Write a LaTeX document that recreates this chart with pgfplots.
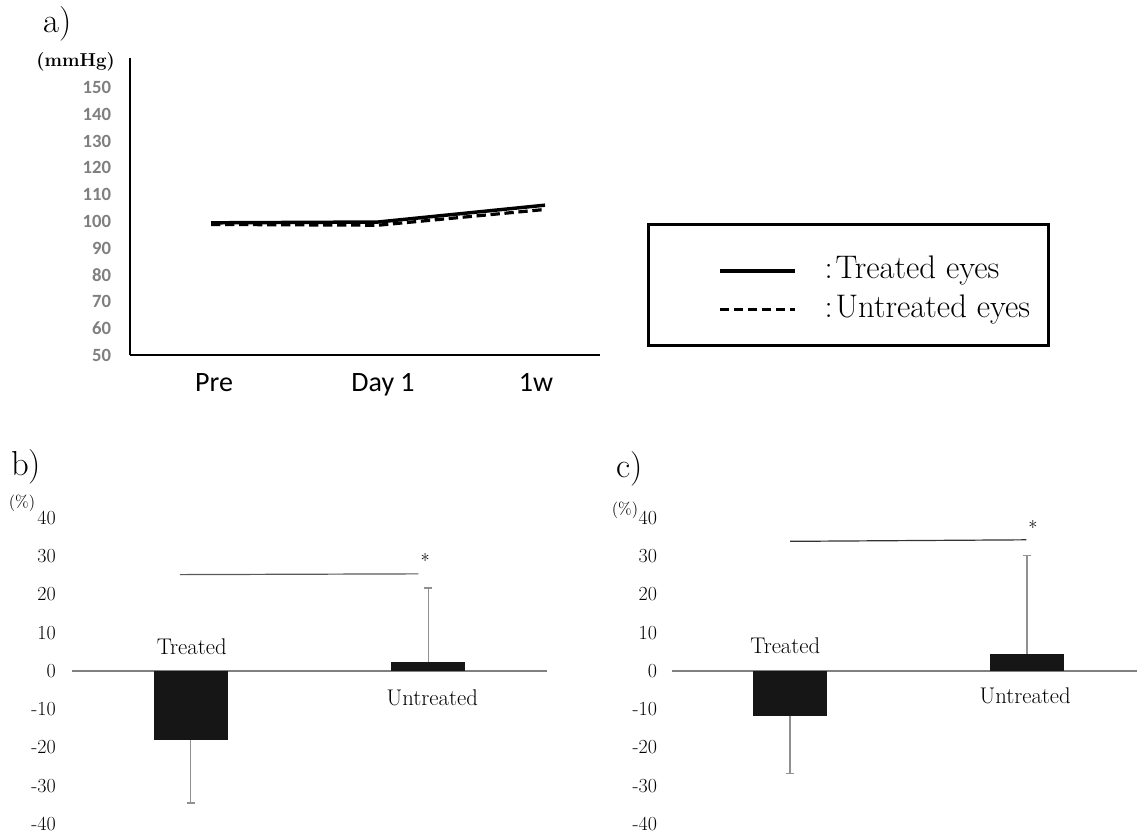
\documentclass[border=0pt]{standalone}
\usepackage{pgfplots}
\pgfplotsset{compat=1.18}
\usepackage{fontspec}
\newfontfamily\carlito{Carlito}
\definecolor{tickgray}{HTML}{7F7F7F}
\definecolor{barblack}{HTML}{161616}
\definecolor{zerogray}{HTML}{808080}
\definecolor{errgray}{HTML}{909090}
\newcommand\semib{\addfontfeature{FakeBold=1.3}}
\begin{document}
\begin{tikzpicture}
\useasboundingbox (0,0) rectangle (852.75pt,624.75pt);

% ---------------- panel a ----------------
\begin{axis}[
 at={(97.5pt,358.5pt)}, anchor=south west,
 scale only axis, width=352.5pt, height=222.75pt,
 xmin=-0.485, xmax=2.329, ymin=50, ymax=161,
 axis x line=bottom, axis y line=left,
 x axis line style={-, line width=1.5pt},
 y axis line style={-, line width=1.1pt},
 ytick={50,60,...,150},
 major tick length=0pt,
 yticklabel style={font=\fontsize{14pt}{16pt}\carlito\bfseries, text=tickgray, inner sep=0pt, xshift=-14pt, /pgf/number format/assume math mode=true},
 xtick={0.018,1.03,1.946}, xticklabels={Pre,Day 1,1w},
 xticklabel style={font=\fontsize{21pt}{25pt}\carlito, inner sep=0pt, yshift=-14pt},
 clip=false,
 legend style={at={(1.251,0.217)}, anchor=west, draw=none, fill=none, inner sep=0pt,
   column sep=21pt, row sep=8pt, font=\fontsize{24.5pt}{28pt}\selectfont,
   nodes={inner sep=0pt, text height=16pt, text depth=5pt}},
 legend cell align=left,
 legend image code/.code={\draw[#1] (0pt,0pt) -- (56.25pt,0pt);},
]
\addplot[black, line width=2.6pt] coordinates {(0,99.4) (1,99.7) (2,106)};
\addlegendentry{:\kern2pt Treated eyes}
\addplot[black, line width=2.4pt, dash pattern=on 7pt off 3.5pt] coordinates {(0,98.8) (1,98.5) (2,104.4)};
\addlegendentry{:\kern2pt Untreated eyes}
\end{axis}
\draw[line width=2.25pt] (486pt,456pt) rectangle (786pt,366pt);
\node[font=\fontsize{14pt}{16pt}\selectfont\bfseries, anchor=east, inner sep=0pt] at (86.25pt,578.25pt) {(mmHg)};
\node[font=\fontsize{26pt}{30pt}\selectfont, inner sep=0pt] at (43pt,606.75pt) {a)};

% ---------------- panel b ----------------
\begin{axis}[
 at={(54pt,6.75pt)}, anchor=south west,
 scale only axis, width=356.25pt, height=229.5pt,
 xmin=-0.5, xmax=1.5, ymin=-40, ymax=40,
 axis x line=middle, axis y line=left,
 x axis line style={-, draw=zerogray, line width=1.5pt},
 y axis line style={draw=none},
 xtick=\empty, ytick={-40,-30,...,40},
 yticklabels={-40,-30,-20,-10,0,10,20,30,40},
 major tick length=0pt,
 yticklabel style={font=\fontsize{15pt}{17pt}\selectfont\semib, inner sep=0pt, xshift=-12pt},
 ybar, bar width=55.5pt, clip=false,
 error bars/error mark=-,
 error bars/error bar style={errgray, line width=0.9pt},
 error bars/error mark options={errgray, line width=0.9pt, mark size=3pt, rotate=90},
]
\addplot[fill=barblack, draw=none, bar shift=0pt, error bars/.cd, y dir=minus, y explicit] coordinates {(0,-18) +- (0,16.5)};
\addplot[fill=barblack, draw=none, bar shift=0pt, error bars/.cd, y dir=plus, y explicit] coordinates {(1,2.3) +- (0,19.4)};
\addplot[sharp plot, no markers, black!65, line width=0.9pt] coordinates {(-0.046,25.2) (0.958,25.4)};
\node[font=\fontsize{14pt}{16pt}\selectfont] at (axis cs:0.987,29) {*};
\node[font=\fontsize{17pt}{20pt}\selectfont\semib] at (axis cs:0.004,6.3) {Treated};
\node[font=\fontsize{17pt}{20pt}\selectfont\semib] at (axis cs:1.017,-7) {Untreated};
\end{axis}
\node[font=\fontsize{12.5pt}{14pt}\selectfont\semib, inner sep=0pt] at (16.5pt,247.5pt) {(\%)};
\node[font=\fontsize{26pt}{30pt}\selectfont, inner sep=0pt] at (19.5pt,274.5pt) {b)};

% ---------------- panel c ----------------
\begin{axis}[
 at={(504pt,6.75pt)}, anchor=south west,
 scale only axis, width=348.75pt, height=229.5pt,
 xmin=-0.498, xmax=1.464, ymin=-40, ymax=40,
 axis x line=middle, axis y line=left,
 x axis line style={-, draw=zerogray, line width=1.5pt},
 y axis line style={draw=none},
 xtick=\empty, ytick={-40,-30,...,40},
 yticklabels={-40,-30,-20,-10,0,10,20,30,40},
 major tick length=0pt,
 yticklabel style={font=\fontsize{15pt}{17pt}\selectfont\semib, inner sep=0pt, xshift=-11pt},
 ybar, bar width=55.5pt, clip=false,
 error bars/error mark=-,
 error bars/error bar style={errgray, line width=0.9pt},
 error bars/error mark options={errgray, line width=0.9pt, mark size=3pt, rotate=90},
]
\addplot[fill=barblack, draw=none, bar shift=0pt, error bars/.cd, y dir=minus, y explicit] coordinates {(0,-11.8) +- (0,15.0)};
\addplot[fill=barblack, draw=none, bar shift=0pt, error bars/.cd, y dir=plus, y explicit] coordinates {(1,4.4) +- (0,25.9)};
\addplot[sharp plot, no markers, black!80, line width=0.9pt] coordinates {(0,33.9) (0.997,34.3)};
\node[font=\fontsize{14pt}{16pt}\selectfont] at (axis cs:1.025,37.4) {*};
\node[font=\fontsize{17pt}{20pt}\selectfont\semib] at (axis cs:-0.02,6.7) {Treated};
\node[font=\fontsize{17pt}{20pt}\selectfont\semib] at (axis cs:0.992,-6.5) {Untreated};
\end{axis}
\node[font=\fontsize{12.5pt}{14pt}\selectfont\semib, inner sep=0pt] at (468.75pt,242.25pt) {(\%)};
\node[font=\fontsize{26pt}{30pt}\selectfont, inner sep=0pt] at (472.5pt,273pt) {c)};
\end{tikzpicture}
\end{document}
